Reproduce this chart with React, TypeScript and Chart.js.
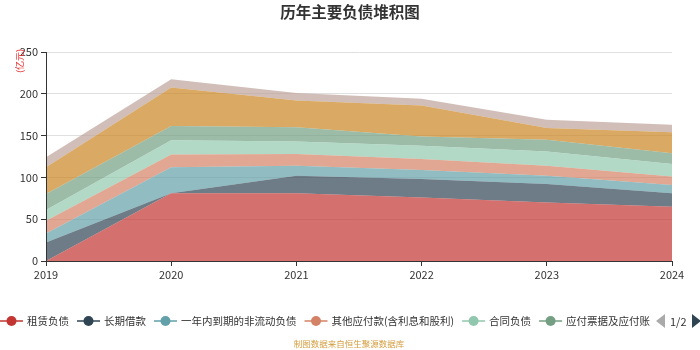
import React, { useEffect, useRef } from "react";
import { Chart, registerables } from "chart.js";

Chart.register(...registerables);

const years = ["2019", "2020", "2021", "2022", "2023", "2024"];
const seriesNames = [
  "租赁负债",
  "长期借款",
  "一年内到期的非流动负债",
  "其他应付款(含利息和股利)",
  "合同负债",
  "应付票据及应付账款",
  "短期借款",
  "应付债券",
];
const leaseLiab = [0, 81, 81, 76, 70, 65];
const longTermLoan = [22, 0, 21, 22, 22, 16];
const currentNonCurrent = [11, 31, 12, 11, 10, 10];
const otherPayables = [15, 15.5, 14, 13, 12, 10];
const contractLiab = [13, 17, 15, 16, 17, 15];
const notesPayable = [19, 17, 17, 11, 14, 13];
const shortTermLoan = [32, 46, 32, 37, 14, 25];
const bondsPayable = [12, 10, 9, 8, 10, 9];
const yTicks = [0, 50, 100, 150, 200, 250];

const seriesValues = [
  leaseLiab,
  longTermLoan,
  currentNonCurrent,
  otherPayables,
  contractLiab,
  notesPayable,
  shortTermLoan,
  bondsPayable,
];
const palette = ["#c23531", "#2f4554", "#61a0a8", "#d48265", "#91c7ae", "#749f83", "#ca8622", "#bda29a"];

function hexA(hex: string, a: number) {
  const r = parseInt(hex.slice(1, 3), 16);
  const g = parseInt(hex.slice(3, 5), 16);
  const b = parseInt(hex.slice(5, 7), 16);
  return `rgba(${r},${g},${b},${a})`;
}

const CJK = '"Noto Sans CJK SC", "Noto Sans", sans-serif';

const overlayPlugin = {
  id: "overlay",
  afterDatasetsDraw(chart: any) {
    const ctx = chart.ctx as CanvasRenderingContext2D;
    const { left, right, top, bottom } = chart.chartArea;
    ctx.save();
    ctx.strokeStyle = "#333";
    ctx.lineWidth = 1;
    ctx.beginPath();
    ctx.moveTo(Math.round(left) + 0.5, top);
    ctx.lineTo(Math.round(left) + 0.5, bottom);
    ctx.moveTo(left, Math.round(bottom) + 0.5);
    ctx.lineTo(right, Math.round(bottom) + 0.5);
    ctx.stroke();
    ctx.restore();
  },
  afterDraw(chart: any) {
    const ctx = chart.ctx as CanvasRenderingContext2D;
    ctx.save();
    // title
    ctx.fillStyle = "#333";
    ctx.font = `bold 15.5px ${CJK}`;
    ctx.textAlign = "center";
    ctx.textBaseline = "middle";
    ctx.fillText("历年主要负债堆积图", 350, 12);

    // y axis unit
    ctx.save();
    ctx.translate(20, 61);
    ctx.rotate(-Math.PI / 2);
    ctx.fillStyle = "#e83030";
    ctx.font = `9px ${CJK}`;
    ctx.textAlign = "center";
    ctx.textBaseline = "middle";
    ctx.fillText("(亿元)", 0, 0);
    ctx.restore();

    // legend
    const ly = 321;
    let x = 0;
    ctx.font = `10.5px ${CJK}`;
    ctx.textAlign = "left";
    ctx.textBaseline = "middle";
    ctx.save();
    ctx.beginPath();
    ctx.rect(0, 300, 650, 40);
    ctx.clip();
    for (let i = 0; i < 6; i++) {
      const c = palette[i];
      ctx.strokeStyle = c;
      ctx.lineWidth = 1.5;
      ctx.beginPath();
      ctx.moveTo(x, ly);
      ctx.lineTo(x + 23, ly);
      ctx.stroke();
      ctx.fillStyle = c;
      ctx.beginPath();
      ctx.arc(x + 11.5, ly, 5, 0, Math.PI * 2);
      ctx.fill();
      ctx.fillStyle = "#333";
      ctx.fillText(seriesNames[i], x + 27, ly + 0.5);
      x = x + 27 + ctx.measureText(seriesNames[i]).width + 8;
    }
    ctx.restore();

    // pager
    ctx.fillStyle = "#aaa";
    ctx.beginPath();
    ctx.moveTo(665, ly - 7);
    ctx.lineTo(665, ly + 7);
    ctx.lineTo(656, ly);
    ctx.closePath();
    ctx.fill();
    ctx.fillStyle = "#333";
    ctx.font = `11px ${CJK}`;
    ctx.fillText("1/2", 670, ly + 0.5);
    ctx.fillStyle = "#2f4554";
    ctx.beginPath();
    ctx.moveTo(692, ly - 7);
    ctx.lineTo(692, ly + 7);
    ctx.lineTo(701, ly);
    ctx.closePath();
    ctx.fill();

    // source
    ctx.fillStyle = "#d49c3c";
    ctx.font = `8.5px ${CJK}`;
    ctx.textAlign = "center";
    ctx.fillText("制图数据来自恒生聚源数据库", 349, 344);
    ctx.restore();
  },
};

export default function App() {
  const ref = useRef<HTMLCanvasElement | null>(null);
  useEffect(() => {
    document.body.style.margin = "0";
    const canvas = ref.current;
    if (!canvas) return;
    const chart = new Chart(canvas, {
      type: "line",
      data: {
        labels: years,
        datasets: seriesValues.map((vals, i) => ({
          label: seriesNames[i],
          data: vals,
          fill: i === 0 ? "origin" : "-1",
          backgroundColor: hexA(palette[i], 0.7),
          borderColor: "rgba(0,0,0,0)",
          borderWidth: 0,
          pointRadius: 0,
          tension: 0,
        })),
      },
      options: {
        animation: false,
        responsive: false,
        maintainAspectRatio: false,
        layout: { padding: { left: 0, right: 28, top: 52, bottom: 59 } },
        plugins: {
          legend: { display: false },
          title: { display: false },
          tooltip: { enabled: false },
          filler: { propagate: false },
        },
        scales: {
          x: {
            offset: false,
            grid: { drawOnChartArea: false, tickColor: "#333", tickLength: 5 },
            border: { color: "#333" },
            ticks: { color: "#333", font: { size: 11, family: CJK }, padding: 2, maxRotation: 0, autoSkip: false },
            afterFit(scale: any) {
              scale.height = 30;
            },
          },
          y: {
            stacked: true,
            min: 0,
            max: 250,
            afterBuildTicks(scale: any) {
              scale.ticks = yTicks.map((v) => ({ value: v }));
            },
            grid: { color: "#e0e0e0", tickColor: "#333", tickLength: 5 },
            border: { color: "#333" },
            ticks: { color: "#333", font: { size: 11, family: CJK }, padding: 3 },
            afterFit(scale: any) {
              scale.width = 46;
            },
          },
        },
      },
      plugins: [overlayPlugin],
    });
    return () => chart.destroy();
  }, []);
  return <canvas ref={ref} width={700} height={350} style={{ display: "block" }} />;
}
